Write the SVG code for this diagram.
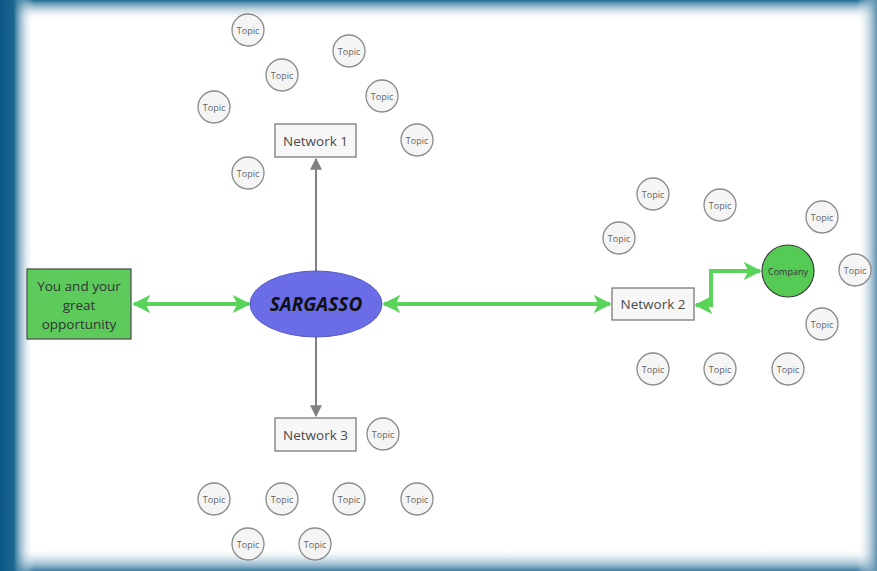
<svg xmlns="http://www.w3.org/2000/svg" width="877" height="571" viewBox="0 0 877 571">
<defs>
<linearGradient id="gl" x1="0" y1="0" x2="1" y2="0"><stop offset="0" stop-color="#0b5683"/><stop offset="0.4" stop-color="#1a6790"/><stop offset="1" stop-color="#ffffff" stop-opacity="0"/></linearGradient>
<linearGradient id="gt" x1="0" y1="0" x2="0" y2="1"><stop offset="0" stop-color="#1f6a93"/><stop offset="1" stop-color="#ffffff" stop-opacity="0"/></linearGradient>
<linearGradient id="gr" x1="1" y1="0" x2="0" y2="0"><stop offset="0" stop-color="#5f92b0"/><stop offset="1" stop-color="#ffffff" stop-opacity="0"/></linearGradient>
<linearGradient id="gb" x1="0" y1="1" x2="0" y2="0"><stop offset="0" stop-color="#3f7ea3"/><stop offset="1" stop-color="#ffffff" stop-opacity="0"/></linearGradient>
<marker id="ga" viewBox="0 0 10 10" refX="9" refY="5" markerWidth="4.5" markerHeight="4.5" orient="auto-start-reverse" markerUnits="strokeWidth"><path d="M0,0 L10,5 L0,10 L2.5,5 Z" fill="#5ad35a"/></marker>
<marker id="ya" viewBox="0 0 10 10" refX="9" refY="5" markerWidth="6" markerHeight="6" orient="auto" markerUnits="strokeWidth"><path d="M0,0 L10,5 L0,10 Z" fill="#808080"/></marker>
</defs>
<style>
.topic circle{fill:#f5f5f5;stroke:#8a8a8a;stroke-width:1.3}
.topic text{font-family:"Open Sans","Liberation Sans",sans-serif;font-size:9px;fill:#666;text-anchor:middle;dominant-baseline:central}
.net rect{fill:#f7f7f7;stroke:#7a7a7a;stroke-width:1.3}
.net text{font-family:"Open Sans","Liberation Sans",sans-serif;font-size:13.5px;fill:#4a4a4a;text-anchor:middle;dominant-baseline:central}
.gl{stroke:#5ad35a;stroke-width:4;fill:none}
.yl{stroke:#808080;stroke-width:2;fill:none}
</style>
<rect x="0" y="0" width="877" height="571" fill="#ffffff"/>
<rect x="0" y="0" width="877" height="20" fill="url(#gt)"/>
<rect x="0" y="548" width="877" height="23" fill="url(#gb)"/>
<rect x="857" y="0" width="20" height="571" fill="url(#gr)"/>
<rect x="0" y="0" width="34" height="571" fill="url(#gl)"/>

<g id="connectors">
<line class="yl" x1="316" y1="271" x2="316" y2="159" marker-end="url(#ya)"/>
<line class="yl" x1="316" y1="337" x2="316" y2="416" marker-end="url(#ya)"/>
<line class="gl" x1="134" y1="304" x2="249" y2="304" marker-start="url(#ga)" marker-end="url(#ga)"/>
<line class="gl" x1="384" y1="304" x2="610" y2="304" marker-start="url(#ga)" marker-end="url(#ga)"/>
<polyline class="gl" points="696,305 711,305 711,271 760,271" marker-start="url(#ga)" marker-end="url(#ga)"/>
</g>

<g id="you"><rect x="27" y="269" width="104" height="70" fill="#5ccb5c" stroke="#555" stroke-width="1.3"/>
<text font-family="Open Sans, Liberation Sans, sans-serif" font-size="13.5" fill="#333" text-anchor="middle"><tspan x="79" y="291">You and your</tspan><tspan x="79" y="310">great</tspan><tspan x="79" y="329">opportunity</tspan></text></g>

<g id="sargasso"><ellipse cx="316" cy="304" rx="66" ry="33" fill="#6a6de6" stroke="#5558c8" stroke-width="1"/>
<text x="316" y="304" font-family="Open Sans, Liberation Sans, sans-serif" font-size="19" font-weight="bold" font-style="italic" fill="#111" text-anchor="middle" dominant-baseline="central">SARGASSO</text></g>

<g id="network1" class="net"><rect x="275" y="124" width="81" height="33"/><text x="315.5" y="141">Network 1</text></g>
<g id="network2" class="net"><rect x="612" y="288" width="82" height="32"/><text x="653" y="304">Network 2</text></g>
<g id="network3" class="net"><rect x="275" y="418" width="81" height="33"/><text x="315.5" y="435">Network 3</text></g>

<g id="company"><circle cx="788" cy="271" r="26" fill="#55cb55" stroke="#3a3a3a" stroke-width="1.2"/>
<text x="788" y="271" font-family="Open Sans, Liberation Sans, sans-serif" font-size="9" fill="#333" text-anchor="middle" dominant-baseline="central">Company</text></g>

<g id="t1" class="topic"><circle cx="248" cy="30" r="16"/><text x="248" y="30">Topic</text></g>
<g id="t2" class="topic"><circle cx="349" cy="51" r="16"/><text x="349" y="51">Topic</text></g>
<g id="t3" class="topic"><circle cx="282" cy="75" r="16"/><text x="282" y="75">Topic</text></g>
<g id="t4" class="topic"><circle cx="382" cy="96" r="16"/><text x="382" y="96">Topic</text></g>
<g id="t5" class="topic"><circle cx="214" cy="107" r="16"/><text x="214" y="107">Topic</text></g>
<g id="t6" class="topic"><circle cx="417" cy="140" r="16"/><text x="417" y="140">Topic</text></g>
<g id="t7" class="topic"><circle cx="248" cy="173" r="16"/><text x="248" y="173">Topic</text></g>
<g id="t8" class="topic"><circle cx="383" cy="434" r="16"/><text x="383" y="434">Topic</text></g>
<g id="t9" class="topic"><circle cx="214" cy="499" r="16"/><text x="214" y="499">Topic</text></g>
<g id="t10" class="topic"><circle cx="282" cy="499" r="16"/><text x="282" y="499">Topic</text></g>
<g id="t11" class="topic"><circle cx="349" cy="499" r="16"/><text x="349" y="499">Topic</text></g>
<g id="t12" class="topic"><circle cx="417" cy="499" r="16"/><text x="417" y="499">Topic</text></g>
<g id="t13" class="topic"><circle cx="248" cy="544" r="16"/><text x="248" y="544">Topic</text></g>
<g id="t14" class="topic"><circle cx="315" cy="544" r="16"/><text x="315" y="544">Topic</text></g>
<g id="t15" class="topic"><circle cx="653" cy="194" r="16"/><text x="653" y="194">Topic</text></g>
<g id="t16" class="topic"><circle cx="720" cy="205" r="16"/><text x="720" y="205">Topic</text></g>
<g id="t17" class="topic"><circle cx="619" cy="238" r="16"/><text x="619" y="238">Topic</text></g>
<g id="t18" class="topic"><circle cx="822" cy="217" r="16"/><text x="822" y="217">Topic</text></g>
<g id="t19" class="topic"><circle cx="855" cy="270" r="16"/><text x="855" y="270">Topic</text></g>
<g id="t20" class="topic"><circle cx="822" cy="324" r="16"/><text x="822" y="324">Topic</text></g>
<g id="t21" class="topic"><circle cx="653" cy="369" r="16"/><text x="653" y="369">Topic</text></g>
<g id="t22" class="topic"><circle cx="720" cy="369" r="16"/><text x="720" y="369">Topic</text></g>
<g id="t23" class="topic"><circle cx="788" cy="369" r="16"/><text x="788" y="369">Topic</text></g>
</svg>
